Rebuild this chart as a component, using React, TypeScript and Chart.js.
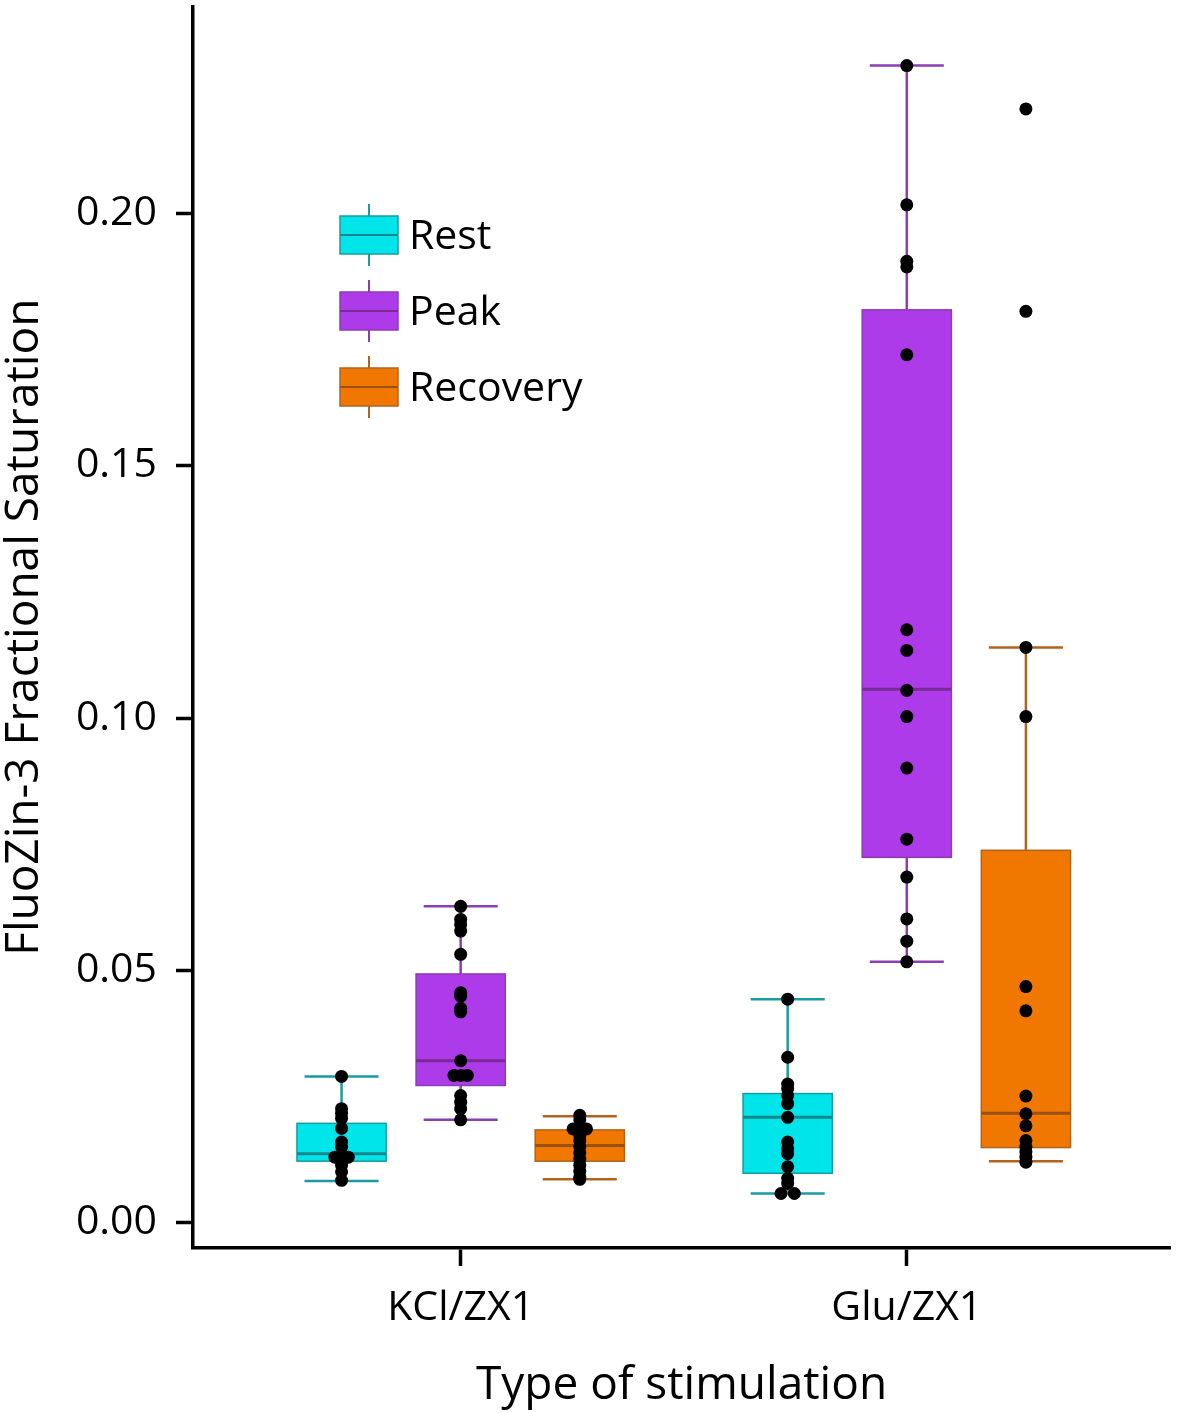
import { useEffect, useRef } from "react";
import { Chart, registerables, Plugin } from "chart.js";

Chart.register(...registerables);

// categories on the x axis and the three series drawn in each
const categories = ["KCl/ZX1", "Glu/ZX1"];
const seriesNames = ["Rest", "Peak", "Recovery"];

// box stats: [lower whisker, q1, median, q3, upper whisker]
const restBoxes = [
  [0.0083, 0.0122, 0.0137, 0.0197, 0.029],
  [0.0058, 0.0098, 0.0209, 0.0256, 0.0443],
];
const peakBoxes = [
  [0.0204, 0.0272, 0.0321, 0.0493, 0.0627],
  [0.0517, 0.0724, 0.1057, 0.1809, 0.2293],
];
const recoveryBoxes = [
  [0.0086, 0.0122, 0.0153, 0.0184, 0.0211],
  [0.0122, 0.0149, 0.0217, 0.0738, 0.114],
];

// individual measurements (black dots)
const restKcl = [0.029, 0.0226, 0.0217, 0.0207, 0.0187, 0.016, 0.015, 0.013, 0.013, 0.013, 0.0114, 0.0101, 0.0084];
const restGlu = [0.0443, 0.0328, 0.0275, 0.0266, 0.0252, 0.0236, 0.0209, 0.016, 0.0147, 0.0137, 0.0111, 0.0088, 0.0078, 0.0058, 0.0058];
const peakKcl = [0.0627, 0.0601, 0.0591, 0.0578, 0.0532, 0.0456, 0.0449, 0.0425, 0.0418, 0.0321, 0.0292, 0.0292, 0.0292, 0.0252, 0.0239, 0.0226, 0.0204];
const peakGlu = [0.2293, 0.2017, 0.1905, 0.1894, 0.172, 0.1175, 0.1134, 0.1055, 0.1003, 0.0901, 0.076, 0.0685, 0.0602, 0.0558, 0.0517];
const recoveryKcl = [0.0213, 0.0204, 0.0186, 0.0186, 0.0186, 0.0172, 0.0162, 0.015, 0.0138, 0.0126, 0.0114, 0.0102, 0.009, 0.0086];
const recoveryGlu = [0.2207, 0.1806, 0.114, 0.1003, 0.0468, 0.042, 0.0251, 0.0216, 0.0192, 0.0163, 0.015, 0.014, 0.013, 0.012];

const yTicks = [0, 0.05, 0.1, 0.15, 0.2];

const boxes = [restBoxes, peakBoxes, recoveryBoxes];
const points = [
  [restKcl, restGlu],
  [peakKcl, peakGlu],
  [recoveryKcl, recoveryGlu],
];

const fills = ["#00E5EA", "#AE3BEA", "#F07800"];
const edges = ["#1A9BA1", "#8B3DB5", "#B0641E"];
const medians = ["#17878C", "#7A2A95", "#9A5014"];

// layout in x-axis units (categories sit at 1 and 2)
const groupOffset = 0.267;
const boxHalf = 0.1;
const capHalf = 0.083;
const dotStep = 0.015;

// spread equal values sideways so the dots don't hide each other
const spread = (vals: number[]) =>
  vals.map((v, i) => {
    const n = vals.filter((w) => w === v).length;
    const k = vals.slice(0, i).filter((w) => w === v).length;
    const off = n % 2 ? k - (n - 1) / 2 : (k - (n - 1) / 2) * 2;
    return off * dotStep;
  });

const boxPlugin: Plugin = {
  id: "boxes",
  beforeDatasetsDraw(chart) {
    const { ctx } = chart;
    const x = chart.scales.x;
    const y = chart.scales.y;
    ctx.save();
    boxes.forEach((series, s) => {
      series.forEach(([lo, q1, med, q3, hi], c) => {
        const cx = c + 1 + (s - 1) * groupOffset;
        const px = x.getPixelForValue(cx);
        const left = x.getPixelForValue(cx - boxHalf);
        const right = x.getPixelForValue(cx + boxHalf);
        const capL = x.getPixelForValue(cx - capHalf);
        const capR = x.getPixelForValue(cx + capHalf);

        // whiskers
        ctx.strokeStyle = edges[s];
        ctx.lineWidth = 2.5;
        ctx.beginPath();
        ctx.moveTo(px, y.getPixelForValue(hi));
        ctx.lineTo(px, y.getPixelForValue(q3));
        ctx.moveTo(px, y.getPixelForValue(q1));
        ctx.lineTo(px, y.getPixelForValue(lo));
        ctx.moveTo(capL, y.getPixelForValue(hi));
        ctx.lineTo(capR, y.getPixelForValue(hi));
        ctx.moveTo(capL, y.getPixelForValue(lo));
        ctx.lineTo(capR, y.getPixelForValue(lo));
        ctx.stroke();

        // box
        const top = y.getPixelForValue(q3);
        const bottom = y.getPixelForValue(q1);
        ctx.fillStyle = fills[s];
        ctx.fillRect(left, top, right - left, bottom - top);
        ctx.lineWidth = 1.5;
        ctx.strokeRect(left, top, right - left, bottom - top);

        // median
        ctx.strokeStyle = medians[s];
        ctx.lineWidth = 3;
        ctx.beginPath();
        ctx.moveTo(left, y.getPixelForValue(med));
        ctx.lineTo(right, y.getPixelForValue(med));
        ctx.stroke();
      });
    });
    ctx.restore();
  },
  afterDatasetsDraw(chart) {
    // legend in the upper left of the plot
    const { ctx } = chart;
    const keyX = 340;
    const keyW = 58;
    const keyH = 38;
    ctx.save();
    seriesNames.forEach((name, s) => {
      const cy = 235 + s * 76;
      const mid = keyX + keyW / 2;
      ctx.strokeStyle = edges[s];
      ctx.lineWidth = 2;
      ctx.beginPath();
      ctx.moveTo(mid, cy - keyH / 2 - 12);
      ctx.lineTo(mid, cy + keyH / 2 + 12);
      ctx.stroke();
      ctx.fillStyle = fills[s];
      ctx.fillRect(keyX, cy - keyH / 2, keyW, keyH);
      ctx.lineWidth = 1.5;
      ctx.strokeRect(keyX, cy - keyH / 2, keyW, keyH);
      ctx.strokeStyle = medians[s];
      ctx.lineWidth = 2;
      ctx.beginPath();
      ctx.moveTo(keyX, cy);
      ctx.lineTo(keyX + keyW, cy);
      ctx.stroke();
      ctx.fillStyle = "#000";
      ctx.font = "41px 'Open Sans'";
      ctx.textBaseline = "middle";
      ctx.textAlign = "left";
      ctx.fillText(name, keyX + keyW + 11, cy + 2);
    });
    ctx.restore();
  },
};

const App = () => {
  const canvasRef = useRef<HTMLCanvasElement | null>(null);

  useEffect(() => {
    document.body.style.margin = "0";
    document.body.style.overflow = "hidden";
    const canvas = canvasRef.current;
    if (!canvas) return;

    Chart.defaults.font.family = "'Open Sans', sans-serif";
    Chart.defaults.color = "#000";

    const datasets = seriesNames.map((name, s) => ({
      label: name,
      data: points[s].flatMap((vals, c) => {
        const jit = spread(vals);
        return vals.map((v, i) => ({ x: c + 1 + (s - 1) * groupOffset + jit[i], y: v }));
      }),
      backgroundColor: "#000",
      borderWidth: 0,
      pointRadius: 6.5,
      pointHoverRadius: 6.5,
    }));

    const chart = new Chart(canvas, {
      type: "scatter",
      data: { datasets },
      options: {
        animation: false,
        responsive: true,
        maintainAspectRatio: false,
        layout: { padding: { top: 3, right: 11, left: 0, bottom: 0 } },
        plugins: { legend: { display: false }, tooltip: { enabled: false } },
        scales: {
          x: {
            type: "linear",
            min: 0.4,
            max: 2.59,
            afterBuildTicks: (scale) => {
              scale.ticks = categories.map((_, i) => ({ value: i + 1 }));
            },
            afterFit: (scale) => {
              scale.height = 165;
              scale.paddingLeft = 0;
              scale.paddingRight = 0;
            },
            ticks: {
              callback: (v) => categories[Math.round(Number(v)) - 1] ?? "",
              font: { size: 41 },
              color: "#000",
              padding: 18,
              maxRotation: 0,
              autoSkip: false,
            },
            grid: { drawOnChartArea: false, tickLength: 18, tickWidth: 3.5, tickColor: "#000" },
            border: { color: "#000", width: 3.5 },
            title: {
              display: true,
              text: "Type of stimulation",
              font: { size: 46 },
              color: "#000",
              padding: 0,
            },
          },
          y: {
            type: "linear",
            min: -0.005,
            max: 0.241,
            afterBuildTicks: (scale) => {
              scale.ticks = yTicks.map((v) => ({ value: v }));
            },
            afterFit: (scale) => {
              scale.width = 193;
              scale.paddingTop = 0;
              scale.paddingBottom = 0;
            },
            ticks: {
              callback: (v) => Number(v).toFixed(2),
              font: { size: 41 },
              color: "#000",
              padding: 19,
            },
            grid: { drawOnChartArea: false, tickLength: 17, tickWidth: 3.5, tickColor: "#000" },
            border: { color: "#000", width: 3.5 },
            title: {
              display: true,
              text: "FluoZin-3 Fractional Saturation",
              font: { size: 46 },
              color: "#000",
              padding: { top: -3, bottom: 0 },
            },
          },
        },
      },
      plugins: [boxPlugin],
    });

    return () => chart.destroy();
  }, []);

  return (
    <div style={{ position: "relative", width: 1181, height: 1413 }}>
      <canvas ref={canvasRef}></canvas>
    </div>
  );
};

export default App;
